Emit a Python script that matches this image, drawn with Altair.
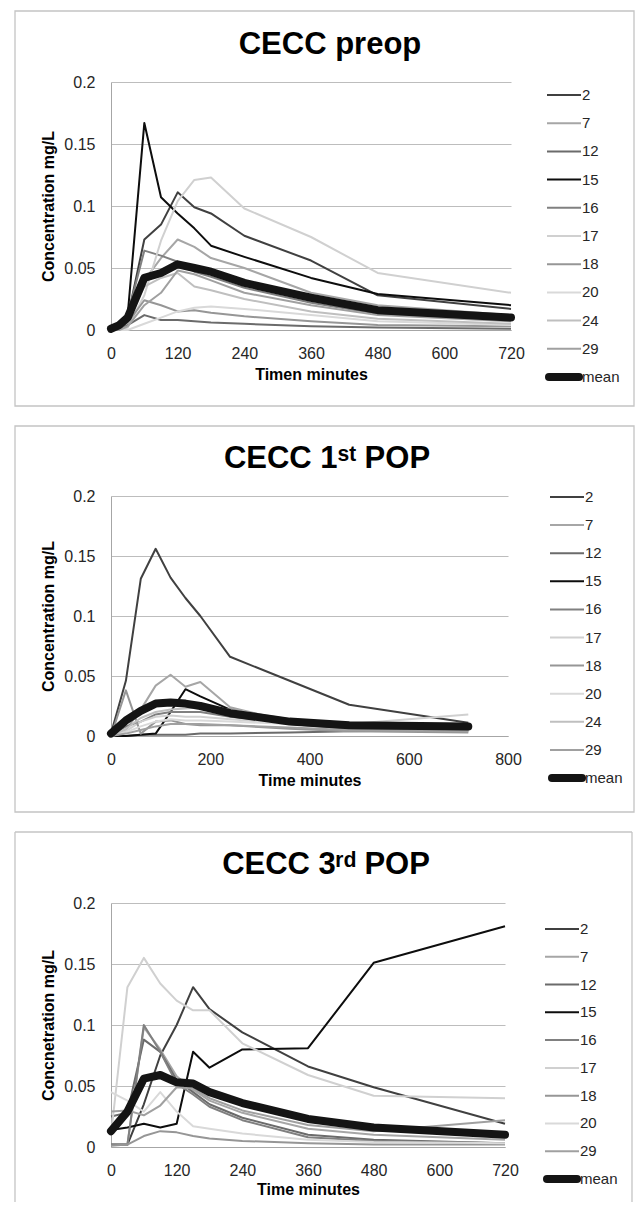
import altair as alt
import pandas as pd

# ---------------- legend / series definitions ----------------
series_all = ["2", "7", "12", "15", "16", "17", "18", "20", "24", "29", "mean"]
colors_all = ["#404040", "#a6a6a6", "#6b6b6b", "#0d0d0d", "#808080",
              "#d0d0d0", "#969696", "#d9d9d9", "#bfbfbf", "#a0a0a0", "#141414"]
series_3rd = ["2", "7", "12", "15", "16", "17", "18", "20", "29", "mean"]
colors_3rd = ["#404040", "#a6a6a6", "#6b6b6b", "#0d0d0d", "#808080",
              "#d0d0d0", "#969696", "#d9d9d9", "#a0a0a0", "#141414"]

y_ticks = [0, 0.05, 0.1, 0.15, 0.2]

# ---------------- panel 1: CECC preop ----------------
t_pre = [0, 15, 30, 60, 90, 120, 150, 180, 240, 360, 480, 720]
pre_2 = [0.000, 0.002, 0.010, 0.073, 0.085, 0.111, 0.099, 0.094, 0.076, 0.056, 0.028, 0.017]
pre_7 = [0.000, 0.001, 0.008, 0.040, 0.058, 0.073, 0.067, 0.058, 0.050, 0.030, 0.020, 0.012]
pre_12 = [0.000, 0.001, 0.004, 0.012, 0.008, 0.008, 0.007, 0.006, 0.005, 0.003, 0.002, 0.001]
pre_15 = [0.000, 0.002, 0.012, 0.167, 0.107, 0.094, 0.082, 0.068, 0.059, 0.042, 0.029, 0.020]
pre_16 = [0.000, 0.002, 0.012, 0.064, 0.060, 0.055, 0.047, 0.043, 0.034, 0.022, 0.013, 0.008]
pre_17 = [0.000, 0.000, 0.002, 0.028, 0.072, 0.104, 0.121, 0.123, 0.098, 0.075, 0.046, 0.030]
pre_18 = [0.000, 0.001, 0.006, 0.024, 0.020, 0.015, 0.016, 0.014, 0.011, 0.007, 0.004, 0.003]
pre_20 = [0.000, 0.000, 0.000, 0.005, 0.010, 0.015, 0.018, 0.019, 0.017, 0.012, 0.007, 0.004]
pre_24 = [0.000, 0.001, 0.008, 0.035, 0.042, 0.046, 0.035, 0.032, 0.025, 0.015, 0.009, 0.005]
pre_29 = [0.000, 0.000, 0.003, 0.020, 0.030, 0.048, 0.045, 0.040, 0.030, 0.020, 0.012, 0.007]
pre_mean = [0.001, 0.004, 0.010, 0.042, 0.046, 0.053, 0.050, 0.047, 0.038, 0.026, 0.016, 0.010]
x_ticks_pre = [0, 120, 240, 360, 480, 600, 720]

# ---------------- panel 2: CECC 1st POP ----------------
t_1st = [0, 30, 60, 90, 120, 150, 180, 240, 360, 480, 720]
pop1_2 = [0.002, 0.046, 0.131, 0.156, 0.132, 0.115, 0.100, 0.066, 0.046, 0.026, 0.011]
pop1_7 = [0.000, 0.005, 0.022, 0.042, 0.051, 0.041, 0.045, 0.024, 0.012, 0.007, 0.005]
pop1_12 = [0.000, 0.000, 0.001, 0.001, 0.001, 0.001, 0.002, 0.002, 0.003, 0.004, 0.005]
pop1_15 = [0.000, 0.000, 0.001, 0.002, 0.020, 0.039, 0.033, 0.022, 0.012, 0.008, 0.006]
pop1_16 = [0.000, 0.008, 0.012, 0.018, 0.020, 0.020, 0.020, 0.016, 0.010, 0.006, 0.004]
pop1_17 = [0.000, 0.004, 0.012, 0.016, 0.017, 0.016, 0.016, 0.014, 0.010, 0.010, 0.018]
pop1_18 = [0.000, 0.038, 0.002, 0.012, 0.013, 0.010, 0.009, 0.009, 0.006, 0.004, 0.003]
pop1_20 = [0.000, 0.003, 0.008, 0.012, 0.014, 0.013, 0.013, 0.012, 0.010, 0.008, 0.006]
pop1_24 = [0.000, 0.006, 0.015, 0.020, 0.022, 0.023, 0.024, 0.022, 0.014, 0.009, 0.007]
pop1_29 = [0.000, 0.002, 0.005, 0.008, 0.010, 0.010, 0.010, 0.009, 0.007, 0.005, 0.004]
pop1_mean = [0.002, 0.013, 0.021, 0.027, 0.028, 0.027, 0.025, 0.019, 0.012, 0.009, 0.008]
x_ticks_1st = [0, 200, 400, 600, 800]

# ---------------- panel 3: CECC 3rd POP ----------------
t_3rd = [0, 30, 60, 90, 120, 150, 180, 240, 360, 480, 720]
pop3_2 = [0.002, 0.002, 0.035, 0.075, 0.100, 0.131, 0.113, 0.094, 0.066, 0.049, 0.019]
pop3_7 = [0.002, 0.002, 0.098, 0.080, 0.058, 0.047, 0.038, 0.028, 0.015, 0.010, 0.006]
pop3_12 = [0.025, 0.028, 0.088, 0.078, 0.055, 0.045, 0.035, 0.024, 0.010, 0.006, 0.003]
pop3_15 = [0.014, 0.016, 0.019, 0.016, 0.019, 0.078, 0.065, 0.080, 0.081, 0.151, 0.181]
pop3_16 = [0.002, 0.002, 0.100, 0.078, 0.052, 0.043, 0.033, 0.022, 0.008, 0.005, 0.003]
pop3_17 = [0.010, 0.131, 0.155, 0.134, 0.120, 0.112, 0.112, 0.085, 0.059, 0.042, 0.040]
pop3_18 = [0.001, 0.002, 0.009, 0.013, 0.012, 0.009, 0.007, 0.005, 0.003, 0.002, 0.002]
pop3_20 = [0.045, 0.038, 0.029, 0.045, 0.029, 0.017, 0.015, 0.011, 0.006, 0.004, 0.003]
pop3_29 = [0.029, 0.030, 0.026, 0.034, 0.049, 0.048, 0.040, 0.030, 0.018, 0.013, 0.022]
pop3_mean = [0.013, 0.029, 0.056, 0.059, 0.053, 0.052, 0.045, 0.036, 0.023, 0.016, 0.010]
x_ticks_3rd = [0, 120, 240, 360, 480, 600, 720]


def long_df(times, names, arrays):
    rows = []
    for name, arr in zip(names, arrays):
        for t, v in zip(times, arr):
            rows.append({"time": t, "value": v, "series": name})
    return pd.DataFrame(rows)


df_pre = long_df(t_pre, series_all,
                 [pre_2, pre_7, pre_12, pre_15, pre_16, pre_17, pre_18, pre_20, pre_24, pre_29, pre_mean])
df_1st = long_df(t_1st, series_all,
                 [pop1_2, pop1_7, pop1_12, pop1_15, pop1_16, pop1_17, pop1_18, pop1_20, pop1_24, pop1_29, pop1_mean])
df_3rd = long_df(t_3rd, series_3rd,
                 [pop3_2, pop3_7, pop3_12, pop3_15, pop3_16, pop3_17, pop3_18, pop3_20, pop3_29, pop3_mean])

FONT = "Liberation Sans"
FRAME = "#c4c4c4"
ONE = alt.Data(values=[{"k": 1}])


def panel(df, title, title_xy, names, colors, xmax, xticks, xtitle, ytitle,
          width, height, frame_box, open_bottom, leg, x_title_pad):
    color = alt.Color("series:N", scale=alt.Scale(domain=names, range=colors), legend=None)
    x = alt.X("time:Q", scale=alt.Scale(domain=[0, xmax], nice=False),
              axis=alt.Axis(values=xticks, format="d", title=xtitle, grid=False,
                            labelFlush=False, titlePadding=x_title_pad, labelPadding=15))
    y = alt.Y("value:Q", scale=alt.Scale(domain=[0, 0.2], nice=False),
              axis=alt.Axis(values=y_ticks, format="~g", title=ytitle, grid=True,
                            labelPadding=16, titlePadding=7))
    lines = (alt.Chart(df)
             .transform_filter("datum.series != 'mean'")
             .mark_line(strokeWidth=2, strokeJoin="round")
             .encode(x=x, y=y, color=color))
    mean = (alt.Chart(df)
            .transform_filter("datum.series == 'mean'")
            .mark_line(strokeWidth=8, strokeJoin="round", strokeCap="round")
            .encode(x=x, y=y, color=color))
    plot = alt.layer(lines, mean)

    # legend: one entry per series, placed by a point scale on the series names
    lx0, lx1, ly0, ly1 = leg
    ldf = pd.DataFrame({"series": names})
    ly = alt.Y("series:N", scale=alt.Scale(type="point", domain=names, range=[ly0, ly1], padding=0),
               axis=None)
    leg_rules = (alt.Chart(ldf).transform_filter("datum.series != 'mean'")
                 .mark_rule(strokeWidth=2, strokeCap="butt")
                 .encode(x=alt.value(lx0), x2=alt.value(lx1), y=ly, color=color))
    leg_mean = (alt.Chart(ldf).transform_filter("datum.series == 'mean'")
                .mark_rule(strokeWidth=8, strokeCap="round")
                .encode(x=alt.value(lx0 + 2), x2=alt.value(lx1 - 2), y=ly, color=color))
    leg_text = (alt.Chart(ldf)
                .mark_text(align="left", baseline="middle", font=FONT, fontSize=15, color="#262626")
                .encode(x=alt.value(lx1 + 1), y=ly, text="series:N"))
    legend = alt.layer(leg_rules, leg_mean, leg_text)

    x0, x1, y0, y1 = frame_box
    if open_bottom:
        frame = alt.layer(
            alt.Chart(ONE).mark_rule(stroke=FRAME, strokeWidth=1.3).encode(
                x=alt.value(x0), x2=alt.value(x1), y=alt.value(y0), y2=alt.value(y0)),
            alt.Chart(ONE).mark_rule(stroke=FRAME, strokeWidth=1.3).encode(
                x=alt.value(x0), x2=alt.value(x0), y=alt.value(y0), y2=alt.value(y1)),
            alt.Chart(ONE).mark_rule(stroke=FRAME, strokeWidth=1.3).encode(
                x=alt.value(x1), x2=alt.value(x1), y=alt.value(y0), y2=alt.value(y1)),
        )
    else:
        frame = (alt.Chart(ONE)
                 .mark_rect(fillOpacity=0, stroke=FRAME, strokeWidth=1.3)
                 .encode(x=alt.value(x0), x2=alt.value(x1),
                         y=alt.value(y0), y2=alt.value(y1)))
    head = (alt.Chart(ONE)
            .mark_text(font=FONT, fontSize=31, fontWeight="bold", color="#000000",
                       align="center", baseline="alphabetic")
            .encode(text=alt.value(title), x=alt.value(title_xy[0]), y=alt.value(title_xy[1])))
    return (alt.layer(frame, head, plot, legend)
            .resolve_scale(y="independent")
            .properties(width=width, height=height))


p1 = panel(df_pre, "CECC preop", (219, -28), series_all, colors_all, 720, x_ticks_pre,
           "Timen minutes", "Concentration mg/L", 400, 248,
           (-96, 523, -71, 324), False, (436, 470, 13, 295), 5)
p2 = panel(df_1st, "CECC 1ˢᵗ POP", (216, -28), series_all, colors_all, 800, x_ticks_1st,
           "Time minutes", "Concentration mg/L", 397, 240,
           (-96, 523, -70, 316), False, (439, 473, 1, 282), 5)
p3 = panel(df_3rd, "CECC 3ʳᵈ POP", (215, -29), series_3rd, colors_3rd, 720, x_ticks_3rd,
           "Time minutes", "Concnetration mg/L", 394, 244,
           (-96, 521, -71, 299), True, (434, 468, 26, 276), 3)

chart = (alt.vconcat(p1, p2, p3, spacing=18)
         .properties(padding={"left": 6, "top": 2, "right": 0, "bottom": 0})
         .configure_view(strokeWidth=0)
         .configure_axis(labelFont=FONT, labelFontSize=16, labelColor="#262626",
                         titleFont=FONT, titleFontSize=16, titleFontWeight="bold",
                         titleColor="#000000", domainColor="#a6a6a6", gridColor="#bdbdbd",
                         ticks=False, tickSize=0))

chart.save("out.html", embed_options={"renderer": "svg", "actions": False})
